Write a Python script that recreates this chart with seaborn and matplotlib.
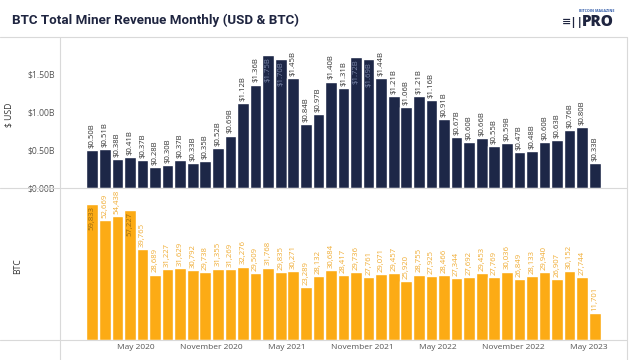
import matplotlib
matplotlib.use("Agg")
import matplotlib.pyplot as plt
import seaborn as sns
import pandas as pd
from matplotlib.lines import Line2D

months = pd.date_range("2020-01-01", "2023-05-01", freq="MS")

usd_bn = [0.50, 0.51, 0.38, 0.41, 0.37, 0.28, 0.30, 0.37, 0.33, 0.35,
          0.52, 0.69, 1.12, 1.36, 1.75, 1.70, 1.45, 0.84, 0.97, 1.40,
          1.31, 1.72, 1.69, 1.44, 1.21, 1.06, 1.21, 1.16, 0.91, 0.67,
          0.60, 0.66, 0.55, 0.59, 0.47, 0.48, 0.60, 0.63, 0.76, 0.80,
          0.33]

btc = [59833, 52669, 54438, 57227, 39765, 28689, 31227, 31629, 30792, 29738,
       31355, 31269, 32276, 29509, 31768, 29835, 30271, 23289, 28132, 30684,
       28417, 29736, 27761, 29071, 29457, 25920, 28755, 27925, 28466, 27344,
       27692, 29453, 27769, 30036, 26849, 28133, 29940, 26907, 30152, 27744,
       11701]

tick_months = ["May 2020", "November 2020", "May 2021", "November 2021",
               "May 2022", "November 2022", "May 2023"]

df = pd.DataFrame({"month": months, "usd": usd_bn, "btc": btc})
df["i"] = range(len(df))

NAVY = "#1d2747"
ORANGE = "#fcab15"
GRID = "#d9d9d9"
TXT = "#555555"

sns.set_style("white")
plt.rcParams["font.family"] = ["Open Sans", "DejaVu Sans"]

fig = plt.figure(figsize=(6.4, 3.6), dpi=100)
ax1 = fig.add_axes([0.09375, 0.4778, 0.886, 0.4056])
ax2 = fig.add_axes([0.09375, 0.0556, 0.886, 0.411], sharex=ax1)

sns.barplot(data=df, x="i", y="usd", ax=ax1, color=NAVY, saturation=1,
            width=0.93, native_scale=True)
sns.barplot(data=df, x="i", y="btc", ax=ax2, color=ORANGE, saturation=1,
            width=0.93, native_scale=True)

ax1.set_ylim(0, 1.92)
ax2.set_ylim(0, 65000)
ax1.set_xlim(-2.57, 42.57)


def add_labels(ax, vals, fmt, out_color, in_color):
    top = ax.get_ylim()[1]
    for p, v in zip(ax.patches, vals):
        x = p.get_x() + p.get_width() / 2
        if v > 0.88 * top:
            ax.text(x, v - top * 0.015, fmt(v), rotation=90, ha="center",
                    va="top", fontsize=5.6, color=in_color, clip_on=False)
        else:
            ax.text(x, v + top * 0.015, fmt(v), rotation=90, ha="center",
                    va="bottom", fontsize=5.6, color=out_color, clip_on=False)


add_labels(ax1, usd_bn, lambda v: f"${v:.2f}B", "#333333", "#7a86a8")
add_labels(ax2, btc, lambda v: f"{v:,.0f}", "#f0ac33", "#9a6a10")

for ax in (ax1, ax2):
    for s in ax.spines.values():
        s.set_visible(False)
    ax.tick_params(length=0)
    ax.set_xlabel("")

ax1.set_yticks([0, 0.5, 1.0, 1.5])
ax1.set_yticklabels(["$0.00B", "$0.50B", "$1.00B", "$1.50B"],
                    fontsize=6.2, color=TXT)
ax1.set_ylabel("$ USD", fontsize=6.2, color="#333333", labelpad=10)
ax1.tick_params(axis="x", labelbottom=False)

ax2.set_yticks([])
ax2.set_ylabel("BTC", fontsize=6.2, color="#333333", labelpad=27)

tick_pos = [i - 0.5 for i, m in enumerate(months) if m.month in (5, 11)]
ax2.set_xticks(tick_pos)
ax2.set_xticklabels(tick_months, fontsize=6, color=TXT)
ax2.tick_params(axis="x", pad=3)

# frame lines (dashboard style)
def fline(x0, y0, x1, y1, **kw):
    fig.add_artist(Line2D([x0 / 640, x1 / 640], [1 - y0 / 360, 1 - y1 / 360],
                          color=GRID, lw=0.8, **kw))

fline(0, 37, 627, 37)
fline(60, 37, 60, 360)
fline(627, 37, 627, 360)
fline(0, 188, 627, 188)
fline(0, 340, 627, 340)

fig.text(12 / 640, 1 - 20 / 360, "BTC Total Miner Revenue Monthly (USD & BTC)",
         fontsize=9.6, fontweight="bold", color="#1f2540", va="center",
         family=["Roboto", "DejaVu Sans"])

# logo
fig.text(614 / 640, 1 - 22 / 360, "PRO", fontsize=11, fontweight="black",
         color="#1f2540", ha="right", va="center")
fig.text(614 / 640, 1 - 11 / 360, "BITCOIN MAGAZINE", fontsize=2.6,
         color="#2f5aa8", ha="right", va="center", fontweight="bold")
fig.text(584 / 640, 1 - 22 / 360, "≡||", fontsize=8, fontweight="bold",
         color="#1f2540", ha="right", va="center")

fig.savefig("out.png", dpi=100, facecolor="white")
